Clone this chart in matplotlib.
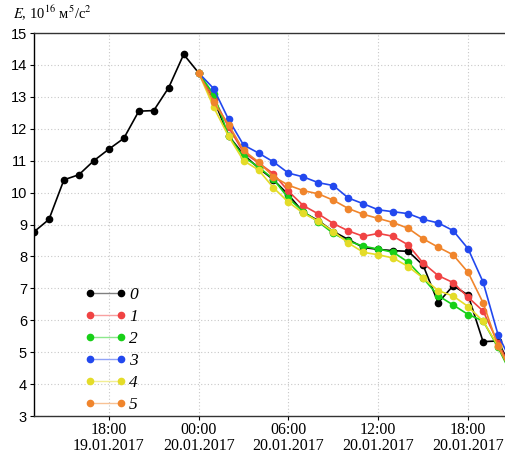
import numpy as np
import pandas as pd
import matplotlib
matplotlib.use("Agg")
import matplotlib.pyplot as plt
from matplotlib.lines import Line2D
from matplotlib.legend_handler import HandlerLine2D
from matplotlib.colors import to_rgb

plt.rcParams['mathtext.fontset'] = 'stix'

# наблюдения 13:00 19.01 - 00:00 20.01, затем прогнозы 00:00 - 21:00 20.01
t_obs = pd.date_range('2017-01-19 13:00', '2017-01-20 00:00', freq='h')
t_fc = pd.date_range('2017-01-20 00:00', '2017-01-20 21:00', freq='h')

e_obs = [8.77, 9.16, 10.40, 10.56, 11.00, 11.36, 11.70, 12.55, 12.57, 13.29, 14.33, 13.75]

e0 = [13.75, 12.92, 11.78, 11.19, 10.77, 10.40, 9.93, 9.38, 9.12, 8.78, 8.53,
      8.28, 8.22, 8.18, 8.16, 7.72, 6.55, 7.08, 6.79, 5.33, 5.35, 4.40]
e1 = [13.75, 12.97, 12.05, 11.26, 10.93, 10.59, 10.04, 9.59, 9.33, 9.03, 8.80,
      8.63, 8.72, 8.63, 8.36, 7.79, 7.40, 7.18, 6.72, 6.29, 5.30, 4.35]
e2 = [13.75, 13.08, 11.78, 11.12, 10.80, 10.42, 9.82, 9.40, 9.08, 8.72, 8.48,
      8.32, 8.23, 8.13, 7.82, 7.32, 6.77, 6.48, 6.18, 5.98, 5.15, 4.20]
e3 = [13.75, 13.26, 12.29, 11.49, 11.24, 10.96, 10.61, 10.49, 10.31, 10.22, 9.83,
      9.65, 9.46, 9.40, 9.34, 9.16, 9.05, 8.81, 8.24, 7.20, 5.55, 4.59]
e4 = [13.75, 12.68, 11.76, 11.00, 10.71, 10.15, 9.70, 9.35, 9.10, 8.78, 8.42,
      8.13, 8.05, 7.95, 7.68, 7.32, 6.93, 6.76, 6.43, 5.97, 5.20, 4.30]
e5 = [13.75, 12.83, 12.13, 11.32, 10.96, 10.50, 10.23, 10.06, 9.96, 9.76, 9.50,
      9.32, 9.19, 9.06, 8.88, 8.55, 8.29, 8.05, 7.50, 6.55, 5.19, 4.27]

labels = ['0', '1', '2', '3', '4', '5']
colors = ['#000000', '#f04343', '#18d018', '#2248ee', '#e4dc28', '#f0852c']

fig = plt.figure(figsize=(5.06, 4.57), dpi=100)
ax = fig.add_axes([34/506, 1-416/457, 1-34/506, (416-33)/457])

# черная линия: наблюдения + вариант 0
t0 = t_obs.append(t_fc[1:])
ax.plot(t0, e_obs + e0[1:], color=colors[0], lw=1.2, marker='o', ms=4.5, zorder=3)
for e, c in zip([e1, e2, e3, e4, e5], colors[1:]):
    ax.plot(t_fc, e, color=c, lw=1.2, marker='o', ms=4.5, zorder=3)

ax.set_xlim(pd.Timestamp('2017-01-19 13:00'), pd.Timestamp('2017-01-20 20:32'))
ax.set_ylim(3, 15)
ax.set_yticks(range(3, 16))

ticks = pd.to_datetime(['2017-01-19 18:00', '2017-01-20 00:00', '2017-01-20 06:00',
                        '2017-01-20 12:00', '2017-01-20 18:00'])
ax.set_xticks(ticks)
ax.set_xticklabels([t.strftime('%H:%M') + '\n' + t.strftime('%d.%m.%Y') for t in ticks],
                   family='Liberation Serif', fontsize=11.5, linespacing=1.05)
for lab in ax.get_yticklabels():
    lab.set_family('Liberation Sans')
    lab.set_fontsize(10.5)

ax.grid(True, color='#c8c8c8', ls=(0, (1, 2)), lw=0.8)
ax.tick_params(axis='both', direction='out', length=3, width=0.8, pad=2)
ax.tick_params(axis='x', pad=1)
ax.spines['right'].set_visible(False)
for s in ['top', 'bottom']:
    ax.spines[s].set_linestyle((0, (3, 1)))
    ax.spines[s].set_color('#333333')
    ax.spines[s].set_linewidth(1.0)
ax.spines['left'].set_linewidth(1.0)

fig.text(13/506, 1-19/457, r'$E$, 10$^{16}$ м$^5$/с$^2$', family='Liberation Serif',
         fontsize=10.5, va='baseline', ha='left')

# легенда
def lighter(c, k=0.5):
    r, g, b = to_rgb(c)
    return (r + (1 - r) * k, g + (1 - g) * k, b + (1 - b) * k)

handles = [Line2D([], [], color=lighter(c), lw=1.0, marker='o', ms=4.5,
                  markerfacecolor=c, markeredgecolor=c) for c in colors]
leg = ax.legend(handles, labels, loc='upper left', bbox_to_anchor=(0.104, 0.355),
                frameon=False, numpoints=2, handlelength=1.8, handletextpad=0.45,
                labelspacing=0.34, borderaxespad=0,
                handler_map={Line2D: HandlerLine2D(marker_pad=0)},
                prop={'family': 'Liberation Serif', 'style': 'italic', 'size': 12.5})

fig.savefig('out.png', dpi=100)
